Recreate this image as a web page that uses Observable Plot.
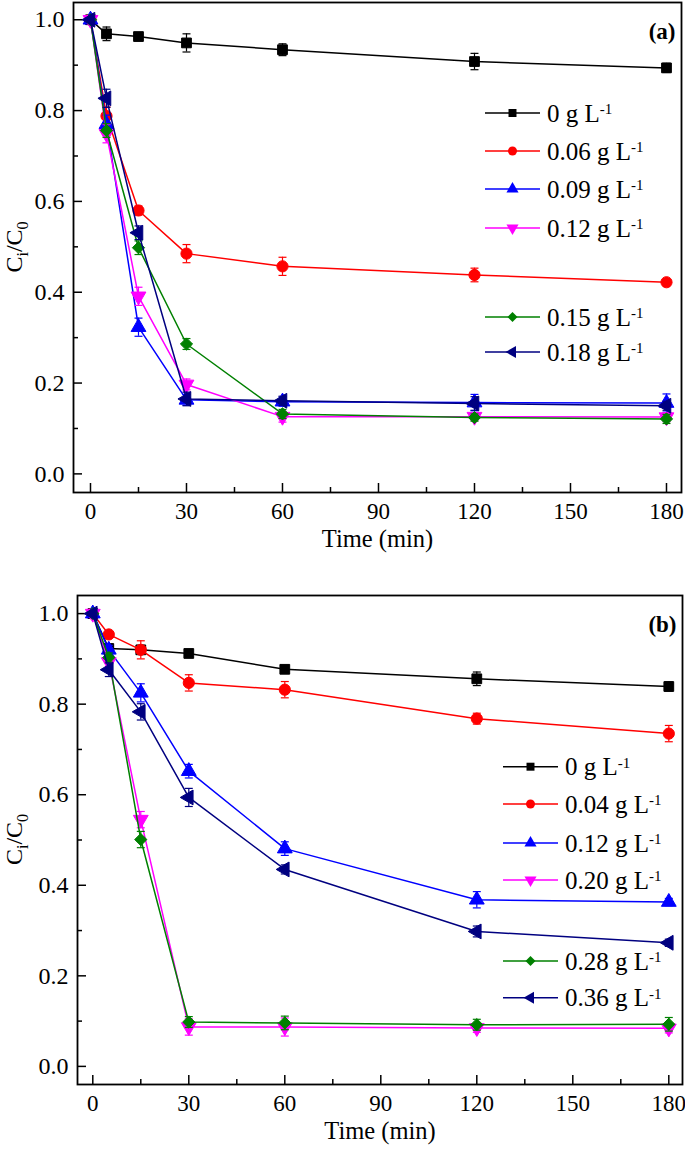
<!DOCTYPE html>
<html><head><meta charset="utf-8">
<script src="https://cdn.jsdelivr.net/npm/d3@7"></script>
<script src="https://cdn.jsdelivr.net/npm/@observablehq/plot@0.6"></script>
<style>body{margin:0;background:#fff;} #c{width:685px;} svg{display:block;}</style>
</head><body><div id="c"></div>
<script>
// ---- shared axes ----
const times = [0, 5, 15, 30, 60, 120, 180];
const xMajor = [0, 30, 60, 90, 120, 150, 180];
const xMinor = [15, 45, 75, 105, 135, 165];
const yMajor = [0, 0.2, 0.4, 0.6, 0.8, 1.0];
const yMinor = [0.1, 0.3, 0.5, 0.7, 0.9];
const colors = ["#000000", "#ff0000", "#0000ff", "#ff00ff", "#008000", "#000080"];
const symbolNames = ["square", "circle", "triangle", "triangleDown", "diamond2", "triangleLeft"];

// ---- panel (a) ----
const labelsA = ["0", "0.06", "0.09", "0.12", "0.15", "0.18"];
const a0   = [1.0, 0.969, 0.963, 0.949, 0.934, 0.908, 0.894];
const a006 = [1.0, 0.788, 0.580, 0.485, 0.457, 0.438, 0.422];
const a009 = [1.0, 0.770, 0.323, 0.163, 0.159, 0.157, 0.156];
const a012 = [1.0, 0.749, 0.391, 0.197, 0.126, 0.126, 0.125];
const a015 = [1.0, 0.756, 0.498, 0.286, 0.132, 0.124, 0.121];
const a018 = [1.0, 0.827, 0.531, 0.165, 0.161, 0.155, 0.150];
const eA0   = [0, 0.015, 0.008, 0.02, 0.013, 0.018, 0.01];
const eA006 = [0, 0.02, 0.01, 0.02, 0.02, 0.015, 0.005];
const eA009 = [0, 0.02, 0.02, 0.012, 0.01, 0.018, 0.02];
const eA012 = [0, 0.02, 0.02, 0.012, 0.012, 0.008, 0.01];
const eA015 = [0, 0.015, 0.015, 0.012, 0.01, 0.008, 0.01];
const eA018 = [0, 0.02, 0.015, 0.015, 0.01, 0.015, 0.01];

// ---- panel (b) ----
const labelsB = ["0", "0.04", "0.12", "0.20", "0.28", "0.36"];
const b0   = [1.0, 0.923, 0.920, 0.912, 0.877, 0.856, 0.839];
const b004 = [1.0, 0.954, 0.920, 0.847, 0.832, 0.768, 0.735];
const b012 = [1.0, 0.920, 0.825, 0.652, 0.481, 0.368, 0.363];
const b020 = [1.0, 0.893, 0.545, 0.087, 0.087, 0.085, 0.084];
const b028 = [1.0, 0.903, 0.501, 0.098, 0.096, 0.092, 0.093];
const b036 = [1.0, 0.876, 0.783, 0.594, 0.435, 0.298, 0.273];
const eB0   = [0, 0.005, 0.005, 0.008, 0.008, 0.015, 0.01];
const eB004 = [0, 0.006, 0.02, 0.018, 0.018, 0.012, 0.018];
const eB012 = [0, 0.01, 0.02, 0.015, 0.015, 0.018, 0.008];
const eB020 = [0, 0.01, 0.018, 0.018, 0.02, 0.01, 0.01];
const eB028 = [0, 0.01, 0.018, 0.012, 0.015, 0.012, 0.015];
const eB036 = [0, 0.015, 0.018, 0.02, 0.01, 0.012, 0.008];

// ---- custom symbols ----
const s3 = Math.sqrt(3);
const customSymbols = {
  triangleDown: {draw(ctx, size) {
    const y = -Math.sqrt(size / (s3 * 3));
    ctx.moveTo(0, -y * 2); ctx.lineTo(-s3 * y, y); ctx.lineTo(s3 * y, y); ctx.closePath();
  }},
  triangleLeft: {draw(ctx, size) {
    const y = -Math.sqrt(size / (s3 * 3));
    ctx.moveTo(y * 2, 0); ctx.lineTo(-y, -s3 * y); ctx.lineTo(-y, s3 * y); ctx.closePath();
  }},
};
const capSymbol = {draw(ctx, size) { const w = Math.sqrt(size) / 2; ctx.moveTo(-w, 0); ctx.lineTo(w, 0); }};
const sym = (name) => customSymbols[name] || name;
const FONT = "'Liberation Serif', 'Times New Roman', serif";

function makeSeries(labels, values, errors) {
  return labels.map((lab, i) => ({
    label: lab, color: colors[i], symbol: sym(symbolNames[i]),
    data: times.map((t, j) => ({t, v: values[i][j], e: errors[i][j]}))
  }));
}

function panel(cfg) {
  const {series, height, mt, mb, ml, mr, xDomain, yDomain, tag, legend} = cfg;
  const innerH = height - mt - mb, innerW = 685 - ml - mr;
  const marks = [];
  // inward ticks
  marks.push(Plot.tickX(xMajor, {x: d => d, insetTop: innerH - 9, stroke: "black", strokeWidth: 1.5}));
  marks.push(Plot.tickX(xMinor, {x: d => d, insetTop: innerH - 5, stroke: "black", strokeWidth: 1.5}));
  marks.push(Plot.tickY(yMajor, {y: d => d, insetRight: innerW - 9, stroke: "black", strokeWidth: 1.5}));
  marks.push(Plot.tickY(yMinor, {y: d => d, insetRight: innerW - 5, stroke: "black", strokeWidth: 1.5}));
  marks.push(Plot.axisX(xMajor, {tickSize: 0, tickPadding: 10, label: null, fontSize: 23, fontFamily: FONT}));
  marks.push(Plot.axisY(yMajor, {tickSize: 0, tickPadding: 9, label: null, fontSize: 24, fontFamily: FONT, tickFormat: d => d.toFixed(1)}));
  series.forEach(s => {
    const withErr = s.data.filter(d => d.e > 0);
    marks.push(Plot.line(s.data, {x: "t", y: "v", stroke: s.color, strokeWidth: 1.5}));
    marks.push(Plot.ruleX(withErr, {x: "t", y1: d => d.v - d.e, y2: d => d.v + d.e, stroke: s.color, strokeWidth: 1.2}));
    marks.push(Plot.dot(withErr, {x: "t", y: d => d.v - d.e, symbol: capSymbol, r: 4.5, stroke: s.color, strokeWidth: 1.2, fill: "none"}));
    marks.push(Plot.dot(withErr, {x: "t", y: d => d.v + d.e, symbol: capSymbol, r: 4.5, stroke: s.color, strokeWidth: 1.2, fill: "none"}));
    marks.push(Plot.dot(s.data, {x: "t", y: "v", symbol: s.symbol, r: s.symbol === "circle" ? 5.6 : 5.5, fill: s.color, stroke: s.color, strokeWidth: 1}));
  });
  marks.push(Plot.frame({stroke: "black", strokeWidth: 1.8}));
  marks.push(Plot.text(["Time (min)"], {frameAnchor: "bottom", dy: 54, fontSize: 24.5, fontFamily: FONT}));
  marks.push(Plot.text([tag], {frameAnchor: "top-right", dx: -6, dy: 20, fontSize: 23, fontFamily: FONT, fontWeight: "bold", textAnchor: "end"}));

  const svg = Plot.plot({
    width: 685, height,
    marginTop: mt, marginBottom: mb, marginLeft: ml, marginRight: mr,
    style: {fontFamily: FONT, fontSize: "24px", color: "black", background: "white"},
    x: {domain: xDomain, axis: null},
    y: {domain: yDomain, axis: null},
    marks
  });

  const s = d3.select(svg);
  // y-axis label with subscripts
  const yl = s.append("text")
    .attr("transform", `translate(22,${mt + innerH / 2}) rotate(-90)`)
    .attr("text-anchor", "middle").attr("font-size", 24).attr("fill", "black")
    .attr("font-family", FONT);
  yl.append("tspan").text("C");
  yl.append("tspan").attr("dy", 6).attr("font-size", 16).text("i");
  yl.append("tspan").attr("dy", -6).text("/C");
  yl.append("tspan").attr("dy", 6).attr("font-size", 16).text("0");

  // legend
  const lg = s.append("g").attr("font-family", FONT).attr("font-size", 25).attr("fill", "black");
  const builtin = {square: d3.symbolSquare, circle: d3.symbolCircle, triangle: d3.symbolTriangle, diamond2: d3.symbolDiamond2};
  series.forEach((ser, i) => {
    const y = legend.rows[i];
    lg.append("line").attr("x1", legend.x0).attr("x2", legend.x1).attr("y1", y).attr("y2", y)
      .attr("stroke", ser.color).attr("stroke-width", 1.5);
    const symType = typeof ser.symbol === "string" ? builtin[ser.symbol] : ser.symbol;
    lg.append("path").attr("d", d3.symbol(symType, Math.PI * 4.5 * 4.5)())
      .attr("transform", `translate(${(legend.x0 + legend.x1) / 2},${y})`).attr("fill", ser.color);
    const t = lg.append("text").attr("x", legend.tx).attr("y", y).attr("dy", "0.35em").attr("text-anchor", "start");
    t.append("tspan").text(`${ser.label} g L`);
    t.append("tspan").attr("dy", "-0.5em").attr("font-size", 15).text("-1");
  });
  return svg;
}

const seriesA = makeSeries(labelsA, [a0, a006, a009, a012, a015, a018], [eA0, eA006, eA009, eA012, eA015, eA018]);
const seriesB = makeSeries(labelsB, [b0, b004, b012, b020, b028, b036], [eB0, eB004, eB012, eB020, eB028, eB036]);

const c = document.getElementById("c");
c.appendChild(panel({
  series: seriesA, height: 575, mt: 2, mb: 83, ml: 73, mr: 4,
  xDomain: [-5.31, 184.69], yDomain: [-0.041, 1.038], tag: "(a)",
  legend: {x0: 485, x1: 540, tx: 547, rows: [113, 151, 189, 228, 317, 352]}
}));
c.appendChild(panel({
  series: seriesB, height: 579, mt: 20, mb: 70, ml: 77, mr: 3,
  xDomain: [-4.78, 184.28], yDomain: [-0.040, 1.040], tag: "(b)",
  legend: {x0: 503, x1: 558, tx: 565, rows: [191.7, 229, 268, 305, 386, 422.7]}
}));
</script>
</body></html>
